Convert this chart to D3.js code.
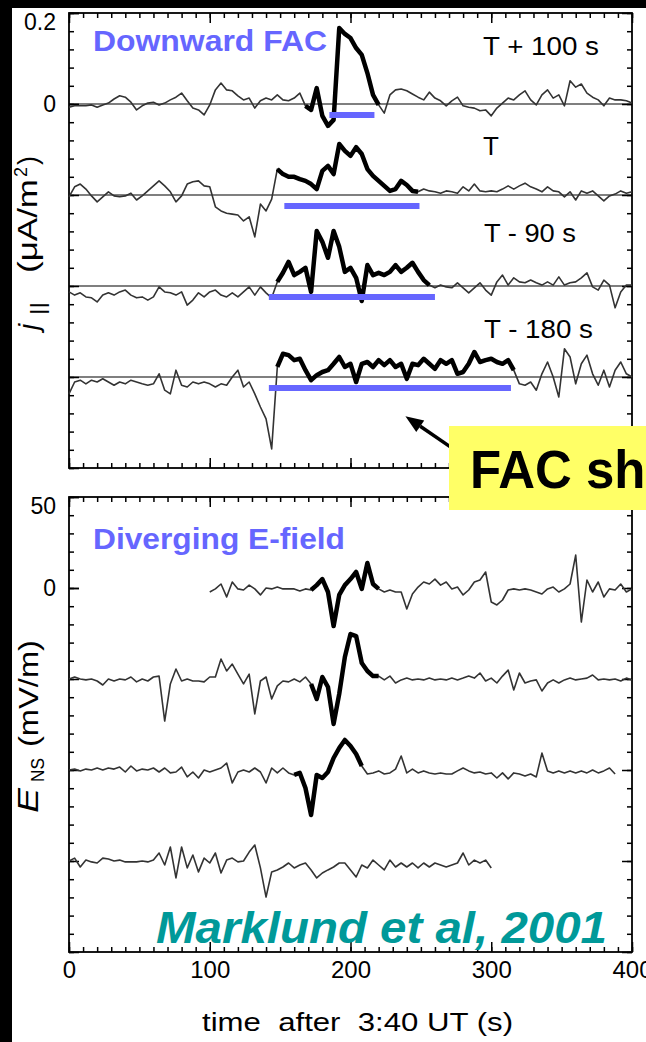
<!DOCTYPE html>
<html>
<head>
<meta charset="utf-8">
<script src="https://cdn.jsdelivr.net/npm/d3@7"></script>
<style>
  body { margin: 0; background: #fff; }
  svg { display: block; font-family: "Liberation Sans", Arial, Helvetica, sans-serif; }
</style>
</head>
<body>
<div id="chart"></div>
<script>
// samples every 4 s
var timeStep = 4;

// j|| traces in uA/m^2, t = 0..400 s
var jPlus100 = [-.007,-.004,-.004,-.004,-.002,-.007,-.002,.002,.011,.018,
  .015,.004,-.013,-.004,.002,.004,-.002,.002,.009,.015,
  .024,.007,-.009,-.013,-.024,-.002,.031,.046,.031,.029,
  .018,.009,.013,-.009,.007,.013,.009,.020,.009,.007,
  .013,.024,-.004,-.013,.035,-.026,-.048,-.035,.167,.154,
  .145,.123,.108,.068,.020,-.002,-.020,.020,.031,.033,
  .029,.022,.015,.009,.026,.013,.007,-.004,.007,.015,
  -.004,-.007,-.009,-.015,-.013,-.026,-.009,.002,.013,.009,
  .020,.029,.009,-.002,.020,.031,.013,.020,-.004,.051,
  .037,.044,.024,.015,.009,-.004,.013,.009,.009,.007,
  .002];
var jT = [-.004,.018,.024,.013,-.002,-.015,-.004,.007,-.002,-.004,
  -.002,.004,-.011,-.002,.009,.020,.031,.020,.007,-.015,
  -.002,.024,.029,.031,.020,.018,-.026,-.035,-.040,-.042,
  -.044,-.057,-.048,-.092,-.020,-.035,-.009,.057,.046,.040,
  .040,.035,.031,.024,.013,.053,.064,.046,.112,.097,
  .086,.105,.090,.057,.042,.031,.020,.009,.013,.031,
  .022,.009,.007,.013,.009,.007,.004,.009,.007,.004,
  .018,.009,.024,.009,.007,.009,.007,.013,.020,.013,
  .020,.026,.018,.013,.007,.018,.009,.007,-.004,.007,
  -.011,.009,.004,.009,-.002,-.013,-.002,.002,.009,.004,
  .007];
var jMinus90 = [-.013,-.020,-.015,-.024,-.026,-.035,-.020,-.015,-.020,-.013,
  -.009,-.020,-.026,-.024,-.031,-.024,-.002,-.013,-.015,-.020,
  -.013,-.042,-.031,-.015,-.024,-.013,-.009,-.020,-.024,-.015,
  -.024,-.013,-.002,-.020,-.002,-.015,-.026,.009,.029,.053,
  .024,.031,.040,-.013,.121,.097,.062,.121,.086,.031,
  .040,.018,-.033,.046,.024,.029,.024,.031,.046,.031,
  .040,.051,.031,.013,.002,-.004,.002,-.002,-.004,.007,
  -.004,-.015,-.004,.007,-.009,-.020,.009,.024,.002,.018,
  .009,.007,.013,.007,.002,.009,.002,.020,.002,.007,
  .009,.018,.029,-.002,-.009,.013,.002,-.048,-.013,.002,
  .002];
var jMinus180 = [-.037,-.011,-.007,-.015,-.007,-.011,-.004,-.011,-.018,-.011,
  -.015,-.007,-.011,-.015,-.018,-.015,.007,-.029,-.037,.015,
  -.018,-.022,-.011,-.015,-.011,-.015,-.022,-.015,-.018,0,
  .015,-.022,-.011,-.037,-.066,-.092,-.158,.022,.051,.048,
  .037,.040,.015,-.007,.004,.011,.015,.029,.044,.022,
  .029,-.011,.029,.033,.022,.037,.026,.037,.022,.029,
  -.004,.029,.026,.040,.029,.018,.037,.029,.037,.007,
  .011,.029,.055,.033,.037,.040,.033,.029,.037,.015,
  -.015,-.018,-.011,-.029,.007,.033,0,-.044,.062,.044,
  -.015,.029,.048,.007,-.018,.015,-.022,.015,.033,.007,
  0];

var jNames = ["T + 100 s", "T", "T - 90 s", "T - 180 s"];
var jOffsets = [0, -0.2, -0.4, -0.6];
var jThick = [[168, 220], [148, 248], [148, 256], [148, 316]];
var facBarStart = [185, 153, 142, 142];
var facBarEnd = [217, 249, 260, 314];
var facBarLevel = -0.024;

// E_NS traces in mV/m
var eTop = [-2.2,-0.5,2.2,-4.9,3.3,-0.5,-1.1,1.6,-0.5,-3.8,
  0,-0.5,0.5,-0.5,-0.5,-0.5,-1.6,-0.5,-1.1,1.6,
  4.9,-2.2,-20.9,-3.8,1.6,4.9,8.8,-0.5,13.7,2.2,
  -0.5,-2.2,-1.1,-2.2,-2.2,-11.5,-3.3,0.5,3.3,2.2,
  4.9,1.6,3.3,-0.5,0.5,-3.8,-1.1,3.3,4.4,8.8,
  -7.7,-9.3,-6.6,-1.1,-0.5,-1.1,-0.5,-1.1,-2.2,-3.3,
  -0.5,0.5,-2.2,-0.5,2.2,18.1,-18.7,4.4,-2.2,3.3,
  -4.9,-0.5,-1.1,2.2,-2.2,-0.5];
var eSecond = [0,1.1,0,-0.5,0,-1.1,-3.3,0,-1.1,0,
  -0.5,1.1,-1.6,0,-1.1,1.1,1.6,-23.1,-2.7,5.5,
  -1.1,0,-1.1,-1.1,-1.6,1.1,1.1,11,4.4,8.2,
  2.7,-2.7,2.7,-19.2,-1.1,1.1,-11,-3.8,-1.1,-1.6,
  0,-1.6,1.1,-2.7,-11,1.1,-4.4,-24.7,-8.2,12.1,
  24.7,23.6,8.8,4.4,1.6,1.6,-0.5,1.6,-2.2,-0.5,
  0.5,-0.5,0,-0.5,0.5,-0.5,0,-0.5,0.5,-0.5,
  0.5,1.6,0.5,3.3,-1.1,0.5,-2.2,1.6,4.9,-6,
  3.3,-2.2,-1.1,-0.5,-6.6,-2.2,-0.5,-2.2,-0.5,0.5,
  -0.5,0,0.5,2.2,-0.5,0,-0.5,0,-1.1,0.5,
  -0.5];
var eThird = [0,0.5,-0.5,0.5,0,1.1,0,1.1,0.5,1.6,
  -1.1,2.2,-0.5,0.5,0,1.1,-1.1,1.1,-1.6,-1.1,
  1.6,-3.8,-1.1,-4.4,0,-1.1,0,1.1,3.8,-7.1,
  -1.1,0,-1.1,1.1,-1.1,-7.1,1.1,-1.6,1.1,-1.6,
  -2.7,-1.6,-9.9,-24.7,-2.7,-4.4,-1.1,6.6,12.1,16.5,
  13.2,8.8,2.2,-2.2,-1.6,-0.5,-2.2,-1.6,0.5,7.7,
  -1.6,0.5,-1.6,-0.5,-1.6,-2.2,-1.6,-2.2,-2.2,-0.5,
  1.1,-0.5,-1.6,-1.1,-2.2,-1.6,-4.4,-1.6,-4.9,-1.6,
  -2.2,-3.3,-2.2,-3.8,9.3,-0.5,-1.6,-0.5,-1.6,-0.5,
  -1.6,-0.5,-1.6,0,-1.6,-0.5,1.1,-2.2];
var eBottom = [0,1.6,-3.3,0.5,-0.5,-1.1,1.6,1.1,0,0.5,
  -0.5,-0.5,-0.5,0,-0.5,0.5,4.4,-2.2,7.7,-9.3,
  7.7,-3.8,3.3,-6,1.6,-1.1,4.4,-6.6,0.5,1.6,
  -0.5,0,4.9,8.8,-3.8,-19.8,-6,-4.9,-3.3,-1.1,
  -3.8,-2.2,-1.1,-4.9,-9.3,-6.6,-4.9,-3.3,-1.1,-1.1,
  -4.9,-8.8,-2.2,-3.8,0.5,-2.2,-4.9,0.5,-3.3,-1.1,
  -3.3,-1.1,-3.8,-1.1,-3.3,-1.1,-2.2,-3.3,-2.2,-1.1,
  4.4,-2.2,0.5,-1.1,0.5,-3.8];

var eOffsets = [0, -50, -100, -150];
var eStarts = [100, 0, 0, 0];
var eThick = [[172, 220], [172, 220], [160, 208], null];

var xTickLabels = [0, 100, 200, 300, 400];
var jTickLabels = [0, 0.2];
var eTickLabels = [0, 50];

var width = 646,
    height = 1042;

var svg = d3.select("#chart").append("svg")
    .attr("width", width)
    .attr("height", height);

svg.append("rect").attr("width", width).attr("height", height).attr("fill", "#fff");

var x = d3.scaleLinear().domain([0, 400]).range([69, 632]);
var yJ = d3.scaleLinear().domain([-0.8, 0.2]).range([468, 13]);
var yE = d3.scaleLinear().domain([-200, 50]).range([952, 497]);

function styleAxis(g, size) {
    g.select(".domain").remove();
    g.selectAll(".tick line").attr("stroke", "#000").attr("stroke-width", 1.5);
    g.selectAll(".tick text").attr("fill", "#000")
        .style("font-family", '"Liberation Sans", Arial, sans-serif')
        .style("font-size", size + "px");
}

function drawFrame(y, majorTicks, minorTicks, labels, showX) {
    var top = y.range()[1], bottom = y.range()[0];
    var xMinor = d3.range(0, 401, 10), xMajor = d3.range(0, 401, 100);

    function sideY(axisFn, tx, vals, len, fmt) {
        return svg.append("g").attr("transform", "translate(" + tx + ",0)")
            .call(axisFn(y).tickValues(vals).tickSize(-len).tickPadding(13).tickFormat(fmt))
            .call(styleAxis, 23);
    }
    function sideX(axisFn, ty, vals, len, fmt) {
        return svg.append("g").attr("transform", "translate(0," + ty + ")")
            .call(axisFn(x).tickValues(vals).tickSize(-len).tickPadding(9).tickFormat(fmt))
            .call(styleAxis, 24);
    }
    var none = function () { return ""; };
    sideY(d3.axisLeft, 69, minorTicks, 5, none);
    sideY(d3.axisLeft, 69, majorTicks, 10, none);
    var lab = sideY(d3.axisLeft, 69, labels, 10, function (d) { return String(d); });
    // the label at the top edge sits just below its tick
    lab.selectAll(".tick text")
        .filter(function (d) { return d === y.domain()[1]; })
        .attr("dy", "0.72em");
    sideY(d3.axisRight, 632, minorTicks, 5, none);
    sideY(d3.axisRight, 632, majorTicks, 10, none);
    sideX(d3.axisTop, top, xMinor, 5, none);
    sideX(d3.axisTop, top, xMajor, 10, none);
    sideX(d3.axisBottom, bottom, xMinor, 5, none);
    sideX(d3.axisBottom, bottom, showX ? xTickLabels : xMajor, 10,
        showX ? function (d) { return String(d); } : none);

    svg.append("rect")
        .attr("x", x(0)).attr("y", top)
        .attr("width", x(400) - x(0)).attr("height", bottom - top)
        .attr("fill", "none").attr("stroke", "#000").attr("stroke-width", 1.8);
}

function drawTrace(values, start, offset, thick, y) {
    var pts = values.map(function (v, i) {
        return { t: start + i * timeStep, v: v + offset };
    });
    var line = d3.line().x(function (d) { return x(d.t); }).y(function (d) { return y(d.v); });
    svg.append("path").datum(pts).attr("d", line)
        .attr("fill", "none").attr("stroke", "#333")
        .attr("stroke-width", 1.6).attr("stroke-linejoin", "round");
    if (thick) {
        svg.append("path")
            .datum(pts.filter(function (d) { return d.t >= thick[0] && d.t <= thick[1]; }))
            .attr("d", line)
            .attr("fill", "none").attr("stroke", "#000")
            .attr("stroke-width", 4.5).attr("stroke-linejoin", "round");
    }
}

// upper panel: field-aligned current
drawFrame(yJ, d3.range(0, 6).map(function (i) { return -0.8 + i * 0.2; }),
    d3.range(0, 26).map(function (i) { return -0.8 + i * 0.04; }), jTickLabels, false);

jOffsets.forEach(function (o) {
    svg.append("line")
        .attr("x1", x(0)).attr("x2", x(400))
        .attr("y1", yJ(o)).attr("y2", yJ(o))
        .attr("stroke", "#000").attr("stroke-width", 1.1);
});

[jPlus100, jT, jMinus90, jMinus180].forEach(function (vals, i) {
    drawTrace(vals, 0, jOffsets[i], jThick[i], yJ);
});

jOffsets.forEach(function (o, i) {
    svg.append("line")
        .attr("x1", x(facBarStart[i])).attr("x2", x(facBarEnd[i]))
        .attr("y1", yJ(o + facBarLevel)).attr("y2", yJ(o + facBarLevel))
        .attr("stroke", "#6666ff").attr("stroke-width", 6);
});

var nameX = [483, 483, 484, 484], nameY = [55, 155, 242, 338], nameLen = [116, 0, 92, 109];
jNames.forEach(function (n, i) {
    var t = svg.append("text").attr("x", nameX[i]).attr("y", nameY[i])
        .attr("font-size", 26).attr("fill", "#000").style("white-space", "pre").text(n);
    if (nameLen[i]) t.attr("textLength", nameLen[i]).attr("lengthAdjust", "spacingAndGlyphs");
});

// lower panel: electric field
drawFrame(yE, d3.range(0, 6).map(function (i) { return -200 + i * 50; }),
    d3.range(0, 26).map(function (i) { return -200 + i * 10; }), eTickLabels, true);

[eTop, eSecond, eThird, eBottom].forEach(function (vals, i) {
    drawTrace(vals, eStarts[i], eOffsets[i], eThick[i], yE);
});

// panel titles and axis labels
function label(txt, xx, yy, size, len, opts) {
    var t = svg.append("text").attr("x", xx).attr("y", yy)
        .attr("font-size", size).style("white-space", "pre").text(txt);
    if (len) t.attr("textLength", len).attr("lengthAdjust", "spacingAndGlyphs");
    opts = opts || {};
    t.attr("fill", opts.fill || "#000")
        .attr("font-weight", opts.weight || "normal")
        .attr("font-style", opts.style || "normal");
    if (opts.rotate) t.attr("transform", "rotate(-90," + xx + "," + yy + ")");
    return t;
}

label("Downward FAC", 93, 51, 29, 234, { fill: "#6666ff", weight: "bold" });
label("Diverging E-field", 93, 549, 29, 252, { fill: "#6666ff", weight: "bold" });

label("j", 38, 330, 28, 0, { style: "italic", rotate: true });
label("||", 45, 315, 21, 13, { rotate: true });
label("(\u03bcA/m", 37, 273, 27, 94, { rotate: true });
label("2", 27, 177, 18, 0, { rotate: true });
label(")", 37, 165, 27, 0, { rotate: true });

label("E", 38, 813, 30, 25, { style: "italic", rotate: true });
label("NS", 44, 782, 19, 24, { rotate: true });
label("(mV/m)", 38, 747, 28, 107, { rotate: true });

label("time  after  3:40 UT (s)", 202, 1031, 25, 311);

// annotation arrow and box
var tip = [x(239), yJ(-0.686)], tail = [x(273), yJ(-0.758)];
var dx = tip[0] - tail[0], dy = tip[1] - tail[1], len = Math.sqrt(dx * dx + dy * dy);
var ux = dx / len, uy = dy / len;
var bx = tip[0] - 18 * ux, by = tip[1] - 18 * uy;
svg.append("line")
    .attr("x1", tail[0]).attr("y1", tail[1]).attr("x2", bx).attr("y2", by)
    .attr("stroke", "#000").attr("stroke-width", 3.5);
svg.append("path")
    .attr("d", "M" + tip[0] + "," + tip[1] +
        "L" + (bx - 7 * uy) + "," + (by + 7 * ux) +
        "L" + (bx + 7 * uy) + "," + (by - 7 * ux) + "Z")
    .attr("fill", "#000");

svg.append("rect")
    .attr("x", 449).attr("y", 426).attr("width", 200).attr("height", 84)
    .attr("fill", "#ffff66");
label("FAC sheet", 470, 488, 54, 249, { weight: "bold" });

label("Marklund et al, 2001", 156, 943, 45, 451, { fill: "#009999", weight: "bold", style: "italic" });

// black slide margins
svg.append("rect").attr("x", 0).attr("y", 0).attr("width", width).attr("height", 8).attr("fill", "#000");
svg.append("rect").attr("x", 0).attr("y", 0).attr("width", 12).attr("height", height).attr("fill", "#000");
</script>
</body>
</html>
